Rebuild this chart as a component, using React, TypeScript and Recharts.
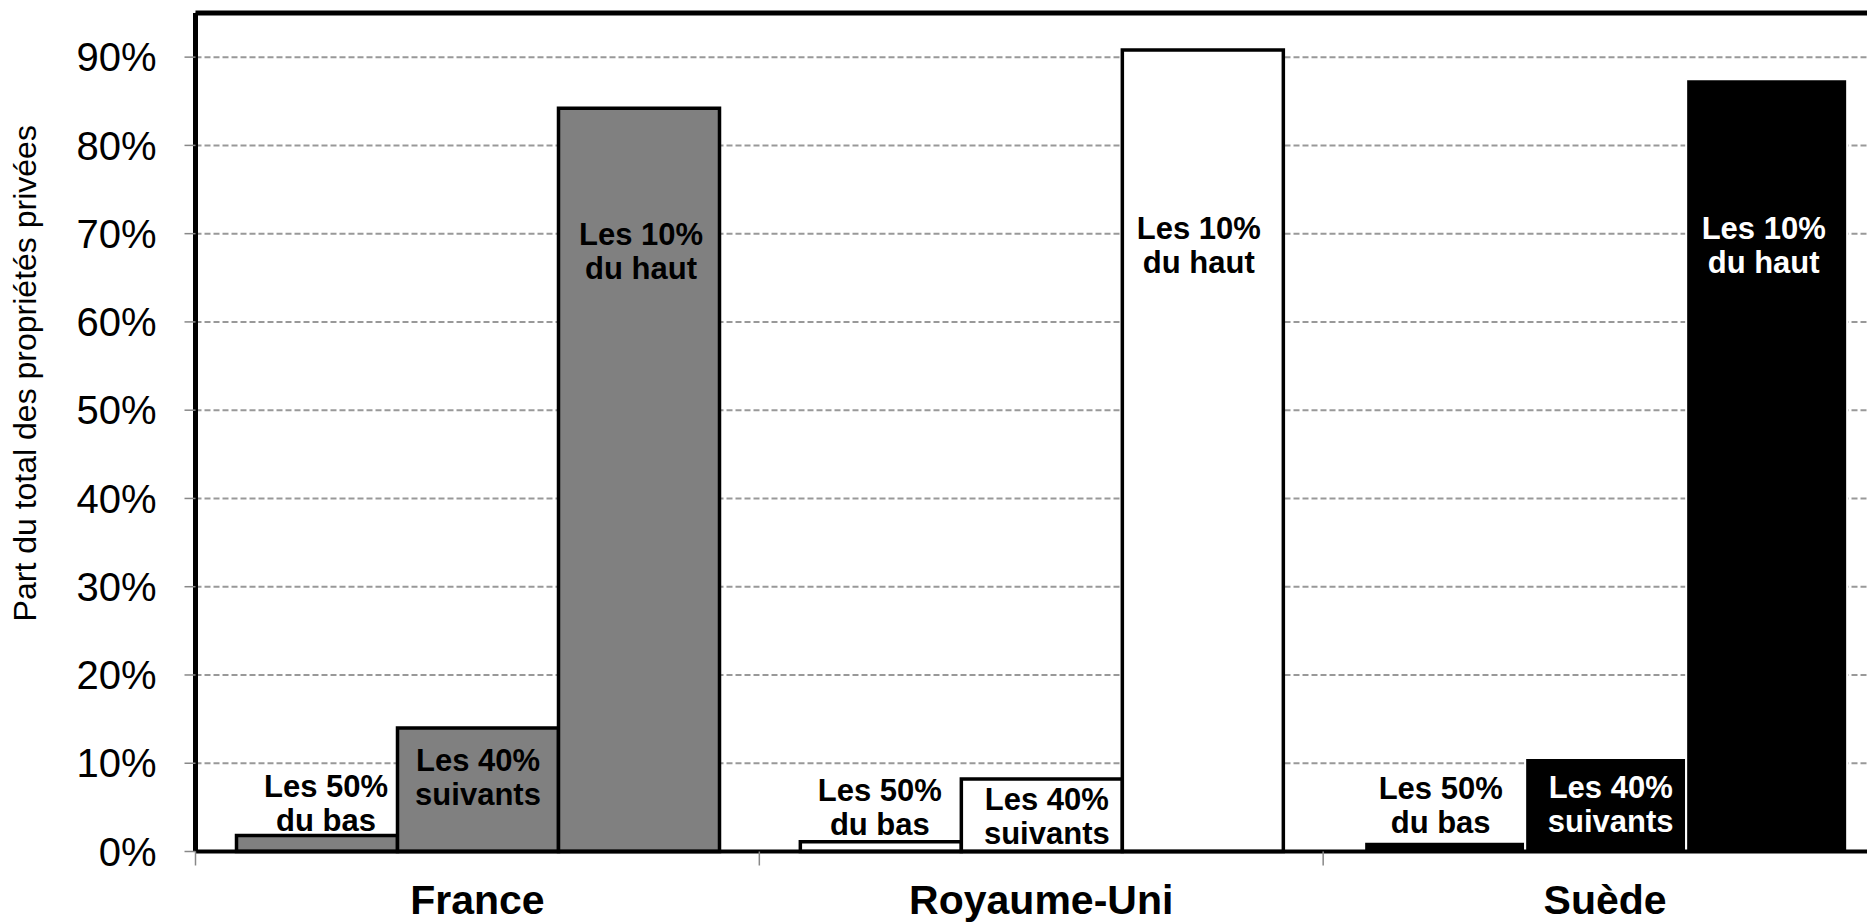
import { BarChart, Bar, XAxis, YAxis, CartesianGrid, Cell, LabelList, ReferenceLine } from "recharts";

const countries = ["France", "Royaume-Uni", "Suède"];
const bottom50 = [0.018, 0.011, 0.011];
const next40 = [0.14, 0.082, 0.106];
const top10 = [0.842, 0.908, 0.875];
const yTicks = [0, 0.1, 0.2, 0.3, 0.4, 0.5, 0.6, 0.7, 0.8, 0.9];

const data = countries.map((country, i) => ({
  country,
  bottom50: bottom50[i],
  next40: next40[i],
  top10: top10[i],
}));

const FONT = "'Liberation Sans', Arial, Helvetica, sans-serif";

// one look per country
const fills = ["#808080", "#ffffff", "#000000"];
const strokes = ["#000000", "#000000", "#ffffff"];
const strokeWidths = [3.5, 3.5, 2];

type Key = "bottom50" | "next40" | "top10";

const groupText: Record<Key, [string, string]> = {
  bottom50: ["Les 50%", "du bas"],
  next40: ["Les 40%", "suivants"],
  top10: ["Les 10%", "du haut"],
};

// where the first line of each label sits (axis units) + small x nudge
const labelPlace: Record<Key, { at: number; dx: number }[]> = {
  bottom50: [{ at: 0.074, dx: 9 }, { at: 0.07, dx: -1 }, { at: 0.072, dx: -4 }],
  next40: [{ at: 0.104, dx: 0 }, { at: 0.059, dx: 5 }, { at: 0.073, dx: 5 }],
  top10: [{ at: 0.7, dx: 2 }, { at: 0.706, dx: -4 }, { at: 0.706, dx: -3 }],
};

const makeLabel = (key: Key) => (props: any) => {
  const vb = props.viewBox && props.viewBox.width != null ? props.viewBox : props;
  const { x, y, width, height } = vb;
  const i = props.index ?? 0;
  const value = Number(props.value);
  if (!value || !height) return null;
  const base = y + height;
  const per = height / value;
  const p = labelPlace[key][i];
  const cy = base - p.at * per;
  const cx = x + width / 2 + p.dx;
  const white = i === 2 && key !== "bottom50";
  const [l1, l2] = groupText[key];
  return (
    <text
      x={cx}
      y={cy}
      textAnchor="middle"
      fontFamily={FONT}
      fontWeight="bold"
      fontSize={31}
      fill={white ? "#ffffff" : "#000000"}
    >
      <tspan x={cx} dy="0.35em">{l1}</tspan>
      <tspan x={cx} dy={34}>{l2}</tspan>
    </text>
  );
};

function CountryTick(props: any) {
  const { x, y, payload, width, visibleTicksCount } = props;
  const band = width && visibleTicksCount ? width / visibleTicksCount : 563.8;
  return (
    <g>
      <line x1={x - band / 2} x2={x - band / 2} y1={y} y2={y + 14} stroke="#888" strokeWidth={1.5} />
      <text x={x} y={y + 62} textAnchor="middle" fontFamily={FONT} fontWeight="bold" fontSize={41} fill="#000">
        {payload.value}
      </text>
    </g>
  );
}

function YTitle(props: any) {
  const vb = props.viewBox || { x: 0, y: 13, width: 195, height: 838 };
  const cx = 36;
  const cy = vb.y + vb.height / 2 - 59;
  return (
    <text
      x={cx}
      y={cy}
      transform={`rotate(-90 ${cx} ${cy})`}
      textAnchor="middle"
      fontFamily={FONT}
      fontSize={32}
      fill="#000"
    >
      Part du total des propriétés privées
    </text>
  );
}

export default function App() {
  const series: Key[] = ["bottom50", "next40", "top10"];
  return (
    <div
      style={{
        position: "absolute",
        left: 0,
        top: 0,
        width: 1867,
        height: 923,
        overflow: "hidden",
        background: "#fff",
      }}
    >
      <BarChart
        width={1900}
        height={923}
        data={data}
        margin={{ top: 13, right: 13, left: 0, bottom: 0 }}
        barCategoryGap={41}
        barGap={0}
      >
        <CartesianGrid vertical={false} stroke="#999" strokeWidth={2} strokeDasharray="6 3" />
        <XAxis
          dataKey="country"
          interval={0}
          tick={<CountryTick />}
          tickLine={false}
          tickSize={0}
          tickMargin={0}
          height={71.5}
          axisLine={{ stroke: "#000", strokeWidth: 4 }}
        />
        <YAxis
          width={195.5}
          domain={[0, 0.95]}
          ticks={yTicks}
          tickFormatter={(v) => `${Math.round((v as number) * 100)}%`}
          tick={{ fill: "#000", fontSize: 40, fontFamily: FONT }}
          tickSize={11}
          tickMargin={28}
          tickLine={{ stroke: "#888", strokeWidth: 1.5 }}
          axisLine={{ stroke: "#000", strokeWidth: 5 }}
          label={<YTitle />}
        />
        <ReferenceLine y={0.95} stroke="#000" strokeWidth={5} ifOverflow="visible" />
        {series.map((key) => (
          <Bar key={key} dataKey={key} isAnimationActive={false}>
            {data.map((d, i) => (
              <Cell key={d.country} fill={fills[i]} stroke={strokes[i]} strokeWidth={strokeWidths[i]} />
            ))}
            <LabelList dataKey={key} content={makeLabel(key)} />
          </Bar>
        ))}
      </BarChart>
    </div>
  );
}
